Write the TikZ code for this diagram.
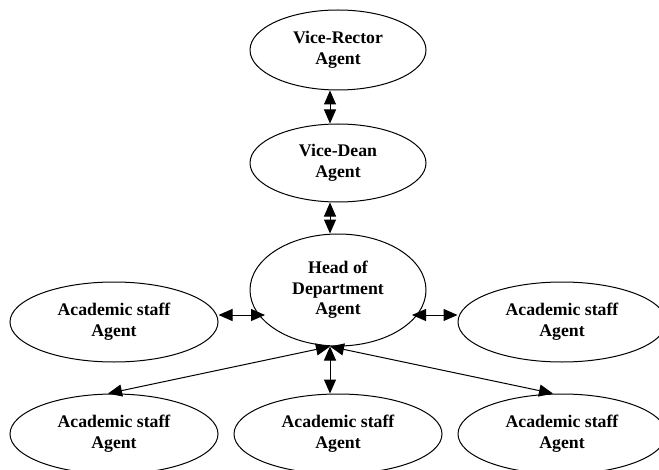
\documentclass[tikz,border=0pt]{standalone}
\usepackage{fontspec}
\setmainfont{Liberation Serif}
\usetikzlibrary{shapes.geometric,arrows.meta,calc}

\tikzset{
  agent/.style={draw, ellipse, line width=0.75pt, inner sep=0pt, align=center,
    font=\fontsize{13.3pt}{15.5pt}\selectfont\bfseries},
  upper/.style={agent, minimum width=132pt, minimum height=60pt},
  staff/.style={agent, minimum width=156pt, minimum height=60pt},
  biarrow/.style={line width=0.75pt,
    {Triangle[length=10.5pt,width=9pt]}-{Triangle[length=10.5pt,width=9pt]}},
  onearrow/.style={line width=0.75pt, -{Triangle[length=10.5pt,width=9pt]}}
}

\begin{document}
\begin{tikzpicture}[x=0.75pt,y=-0.75pt]
  \clip (0,0) rectangle (659,470);
  \fill[white] (0,0) rectangle (659,470);

  % hierarchy of agents
  \node[upper] (vr) at (338,50) {Vice-Rector\\Agent};
  \node[upper, minimum height=58.5pt] (vd) at (338,163) {Vice-Dean\\Agent};
  \node[upper, minimum height=84pt] (hod) at (338,290) {Head of\\Department\\Agent};

  \node[staff] (ml) at (114,322) {Academic staff\\Agent};
  \node[staff] (mr) at (562,322) {Academic staff\\Agent};
  \node[staff] (bl) at (114,434) {Academic staff\\Agent};
  \node[staff] (bm) at (338,434) {Academic staff\\Agent};
  \node[staff] (br) at (562,434) {Academic staff\\Agent};

  % communication links
  \draw[biarrow] ($(vr.south)+(-8,0)$) -- ($(vd.north)+(-8,0)$);
  \draw[biarrow] ($(vd.south)+(-8,0)$) -- ($(hod.north)+(-8,0)$);
  \draw[biarrow] ($(ml.east)+(0,-7)$) -- ($(hod.center)+(-73,25)$);
  \draw[biarrow] ($(hod.center)+(74,25)$) -- ($(mr.west)+(0,-7)$);

  \coordinate (hub) at ($(hod.south)+(-8,0)$);
  \draw[biarrow] (hub) -- ($(bl.north)+(-6,0)$);
  \draw[biarrow] (hub) -- ($(bm.north)+(-8,0)$);
  \draw[biarrow] (hub) -- ($(br.north)+(-9,0)$);
\end{tikzpicture}
\end{document}
